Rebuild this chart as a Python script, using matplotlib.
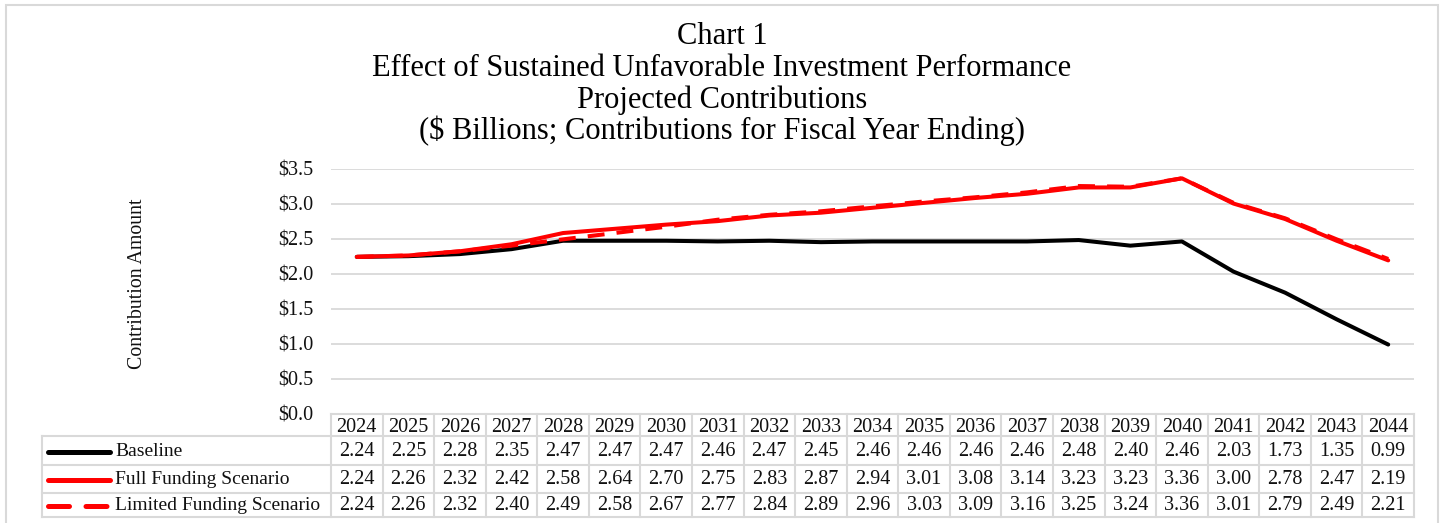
import matplotlib
matplotlib.use("Agg")
import matplotlib.pyplot as plt
from matplotlib.transforms import blended_transform_factory
from matplotlib.patches import Rectangle
from matplotlib.lines import Line2D

years = [2024, 2025, 2026, 2027, 2028, 2029, 2030, 2031, 2032, 2033, 2034,
         2035, 2036, 2037, 2038, 2039, 2040, 2041, 2042, 2043, 2044]
baseline = [2.24, 2.25, 2.28, 2.35, 2.47, 2.47, 2.47, 2.46, 2.47, 2.45, 2.46,
            2.46, 2.46, 2.46, 2.48, 2.40, 2.46, 2.03, 1.73, 1.35, 0.99]
full_funding = [2.24, 2.26, 2.32, 2.42, 2.58, 2.64, 2.70, 2.75, 2.83, 2.87, 2.94,
                3.01, 3.08, 3.14, 3.23, 3.23, 3.36, 3.00, 2.78, 2.47, 2.19]
limited_funding = [2.24, 2.26, 2.32, 2.40, 2.49, 2.58, 2.67, 2.77, 2.84, 2.89, 2.96,
                   3.03, 3.09, 3.16, 3.25, 3.24, 3.36, 3.01, 2.79, 2.49, 2.21]
series_names = ["Baseline", "Full Funding Scenario", "Limited Funding Scenario"]
yticks = [0.0, 0.5, 1.0, 1.5, 2.0, 2.5, 3.0, 3.5]
title_lines = ["Chart 1",
               "Effect of Sustained Unfavorable Investment Performance",
               "Projected Contributions",
               "($ Billions; Contributions for Fiscal Year Ending)"]

plt.rcParams['font.family'] = ['Liberation Serif', 'DejaVu Serif']

W, H = 1445, 523
fig = plt.figure(figsize=(W / 100, H / 100), dpi=100)

def fy(py):  # pixel-from-top -> figure fraction
    return 1 - py / H

def fx(px):
    return px / W

grid_c = '#d9d9d9'
txt_c = '#111111'
# outer chart border
fig.patches.append(Rectangle((fx(6), fy(530)), fx(1438 - 6), fy(5) - fy(530),
                             transform=fig.transFigure, fill=False,
                             edgecolor=grid_c, linewidth=1.5))

# plot area
x_left, x_right = 331, 1414
y0_px, y35_px = 414, 168.5
ax = fig.add_axes([fx(x_left), fy(y0_px), fx(x_right - x_left), fy(y35_px) - fy(y0_px)])
n = len(years)
xs = list(range(n))
ax.set_xlim(-0.5, n - 0.5)
ax.set_ylim(0, 3.5)
for s in ax.spines.values():
    s.set_visible(False)
ax.set_yticks(yticks)
ax.set_yticklabels([f"${v:.1f}" for v in yticks], fontsize=14.5, color=txt_c)
ax.tick_params(axis='y', length=0, pad=13)
ax.set_xticks([])
ax.grid(axis='y', color=grid_c, linewidth=1.3)
ax.set_axisbelow(True)

styles = [dict(color='black', linewidth=2.9, linestyle='-'),
          dict(color='#ff0000', linewidth=2.9, linestyle='-'),
          dict(color='#ff0000', linewidth=2.9, linestyle=(0, (4.2, 3.0)))]
data = [baseline, full_funding, limited_funding]
order = [0, 2, 1]
for i in order:
    ax.plot(xs, data[i], solid_capstyle='round', dash_capstyle='butt',
            zorder=3 + i, **styles[i])

fig.text(fx(137), fy(284), "Contribution Amount", rotation=90, ha='center',
         va='center', fontsize=14.3, color=txt_c)

# titles
title_y = [37, 69, 100, 131]
for t, yy in zip(title_lines, title_y):
    fig.text(fx(722), fy(yy), t, ha='center', va='center', fontsize=22, color='black')

# data table
tr = blended_transform_factory(ax.transData, fig.transFigure)
row_b = [414, 436, 465, 493, 517]
lw = 1.5
for yy in row_b:
    if yy == 414:
        fig.add_artist(Line2D([-0.5, n - 0.5], [fy(yy), fy(yy)], transform=tr,
                              color=grid_c, linewidth=lw))
    else:
        fig.add_artist(Line2D([fx(42), fx(x_right)], [fy(yy), fy(yy)],
                              transform=fig.transFigure, color=grid_c, linewidth=lw))
for k in range(n + 1):
    fig.add_artist(Line2D([k - 0.5, k - 0.5], [fy(414), fy(517)], transform=tr,
                          color=grid_c, linewidth=lw))
fig.add_artist(Line2D([fx(42), fx(42)], [fy(436), fy(517)], transform=fig.transFigure,
                      color=grid_c, linewidth=lw))

fs_tab = 14.5
for k, yr in enumerate(years):
    fig.text(k, fy((row_b[0] + row_b[1]) / 2 + 2), str(yr), transform=tr,
             ha='center', va='center', fontsize=fs_tab, color=txt_c)
for r, vals in enumerate(data):
    yc = fy((row_b[r + 1] + row_b[r + 2]) / 2 + 1)
    for k, v in enumerate(vals):
        fig.text(k, yc, f"{v:.2f}", transform=tr, ha='center', va='center',
                 fontsize=fs_tab, color=txt_c)
    st = dict(styles[r])
    st['linewidth'] = 3.6
    if r == 2:
        st['linestyle'] = (0, (4.2, 3.3))
    fig.add_artist(Line2D([fx(48), fx(110)], [yc, yc], transform=fig.transFigure,
                          solid_capstyle='round', dash_capstyle='round', **st))
    fig.text(fx(115), yc, series_names[r], ha='left', va='center', fontsize=14,
             color=txt_c)

fig.savefig("out.png", dpi=100)
